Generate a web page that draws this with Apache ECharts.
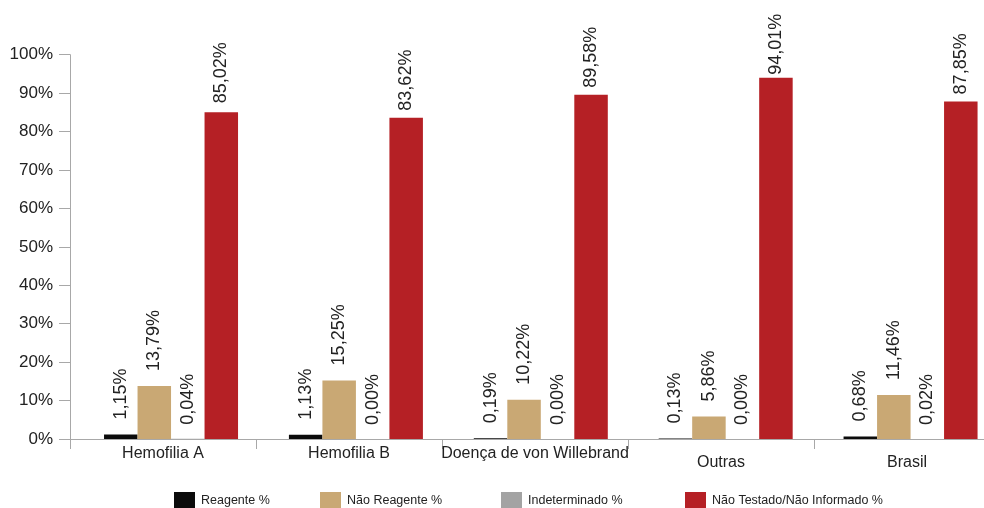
<!DOCTYPE html>
<html>
<head>
<meta charset="utf-8">
<script src="https://cdn.jsdelivr.net/npm/echarts@6/dist/echarts.min.js"></script>
<style>
  html, body { margin: 0; padding: 0; background: #fff; overflow: hidden; width: 984px; height: 508px; }
  /* the plot area continues slightly past the right edge of the page */
  #chart { width: 1003px; height: 508px; }
</style>
</head>
<body>
<div id="chart"></div>
<script>
// Categories and percentage values per series
const categories = ['Hemofilia A', 'Hemofilia B', 'Doença de von Willebrand', 'Outras', 'Brasil'];
const reagente = [1.15, 1.13, 0.19, 0.13, 0.68];
const naoReagente = [13.79, 15.25, 10.22, 5.86, 11.46];
const indeterminado = [0.04, 0.00, 0.00, 0.00, 0.02];
const naoTestado = [85.02, 83.62, 89.58, 94.01, 87.85];
const seriesNames = ['Reagente %', 'Não Reagente %', 'Indeterminado %', 'Não Testado/Não Informado %'];
const yTicks = [0, 10, 20, 30, 40, 50, 60, 70, 80, 90, 100];

// Styling
const colors = ['#0b0b0b', '#c9a874', '#a3a3a3', '#b52025'];
const FONT = "'Liberation Sans', Arial, sans-serif";
const TEXT = '#222222';
const AXIS = '#a8a8a8';
// gap between bar end and its value label, per series / per bar
const labelGap = [
  [15, 15, 15, 15, 15],
  [15, 15, 15, 15, 15],
  [14, 14, 14, 14, 14],
  [9, 7, 7, 3, 7]
];
const legendLefts = [174, 320, 501, 685];

const chart = echarts.init(document.getElementById('chart'), null, { renderer: 'canvas' });

const fmt = v => v.toFixed(2).replace('.', ',') + '%';

function barSeries(name, data, idx) {
  return {
    name: name,
    type: 'bar',
    xAxisIndex: 0,
    yAxisIndex: 0,
    data: data.map((v, j) => ({ value: v, label: { distance: labelGap[idx][j] } })),
    barWidth: 33.5,
    barGap: '0%',
    itemStyle: { color: colors[idx] },
    label: {
      show: true,
      position: 'top',
      rotate: 90,
      align: 'left',
      verticalAlign: 'middle',
      fontFamily: FONT,
      fontSize: 18,
      color: TEXT,
      formatter: p => fmt(p.value)
    }
  };
}

chart.setOption({
  animation: false,
  backgroundColor: '#ffffff',
  grid: [
    // bars
    { left: 78.6, right: 0, top: 54.7, bottom: 69, containLabel: false },
    // visible axes
    { left: 70, right: 3, top: 54.7, bottom: 69, containLabel: false }
  ],
  legend: seriesNames.map((n, i) => ({
    data: [n],
    left: legendLefts[i],
    top: 492,
    itemWidth: 21,
    itemHeight: 18,
    itemGap: 7,
    padding: 0,
    icon: 'rect',
    selectedMode: false,
    textStyle: { fontFamily: FONT, fontSize: 12.5, color: TEXT, padding: [4, 0, 0, 1] }
  })),
  xAxis: [
    { type: 'category', gridIndex: 0, data: categories, show: false },
    {
      type: 'category',
      gridIndex: 1,
      data: categories,
      boundaryGap: true,
      axisLine: { show: true, lineStyle: { color: AXIS, width: 1 } },
      axisTick: { show: true, length: 10, lineStyle: { color: AXIS } },
      axisLabel: {
        margin: 7,
        interval: 0,
        fontFamily: FONT,
        fontSize: 16,
        color: TEXT,
        formatter: (v, i) => (i >= 3 ? '{low|' + v + '}' : v),
        rich: { low: { fontFamily: FONT, fontSize: 16, color: TEXT, padding: [9, 0, 0, 0] } }
      },
      splitLine: { show: false }
    }
  ],
  yAxis: [
    { type: 'value', gridIndex: 0, min: 0, max: 100, interval: 10, show: false },
    {
      type: 'value',
      gridIndex: 1,
      min: yTicks[0],
      max: yTicks[yTicks.length - 1],
      interval: 10,
      axisLine: { show: true, lineStyle: { color: AXIS, width: 1 } },
      axisTick: { show: true, length: 11, lineStyle: { color: AXIS } },
      axisLabel: {
        margin: 17,
        fontFamily: FONT,
        fontSize: 17,
        color: TEXT,
        formatter: '{value}%'
      },
      splitLine: { show: false }
    }
  ],
  series: [
    barSeries(seriesNames[0], reagente, 0),
    barSeries(seriesNames[1], naoReagente, 1),
    barSeries(seriesNames[2], indeterminado, 2),
    barSeries(seriesNames[3], naoTestado, 3)
  ]
});
</script>
</body>
</html>
